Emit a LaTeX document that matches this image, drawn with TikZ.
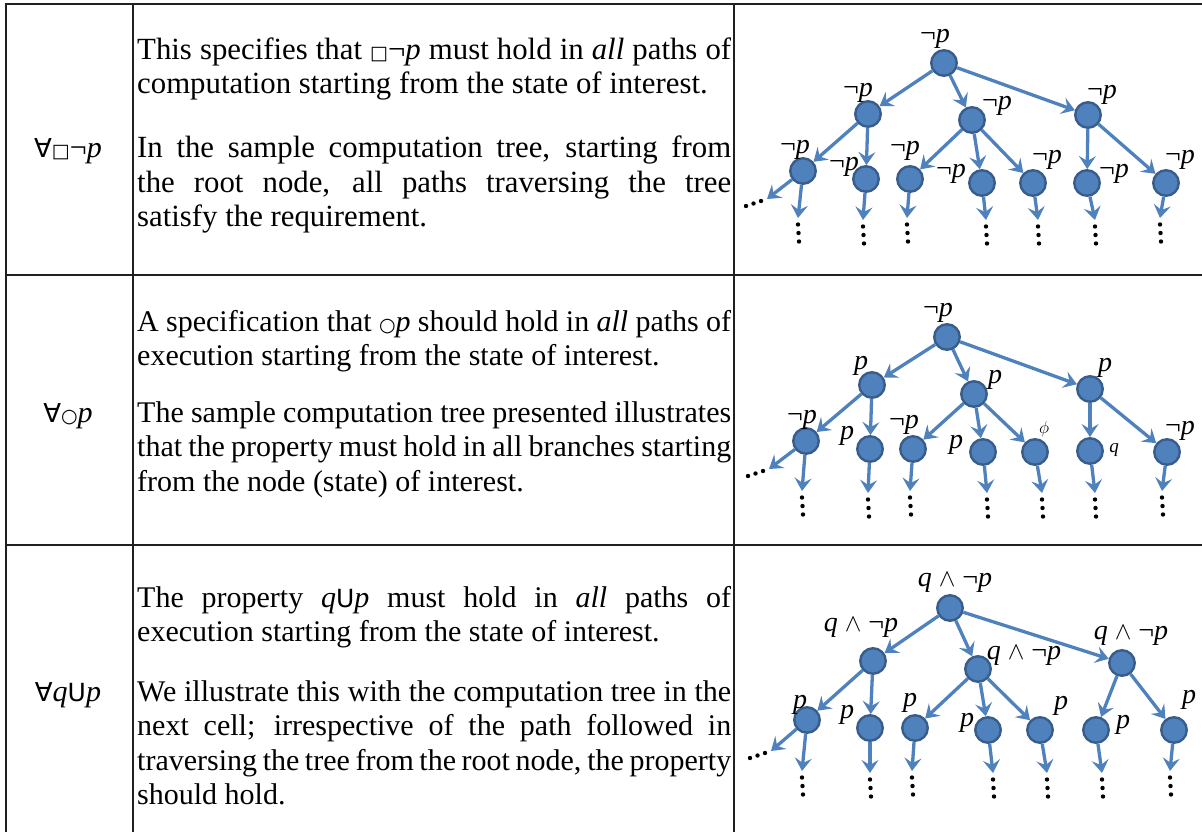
\documentclass[tikz,border=0pt]{standalone}
\usepackage{fontspec}
\setmainfont{Liberation Serif}
\newfontfamily\djs{DejaVu Sans}
\usetikzlibrary{arrows.meta}
\definecolor{nodeblue}{HTML}{4F81BD}
\definecolor{nodeedge}{HTML}{385D8A}
\definecolor{rulecol}{HTML}{231F20}
\hyphenpenalty=10000
\exhyphenpenalty=10000
\newcommand{\bsq}{{\djs\fontsize{19}{19}\selectfont □}}
\newcommand{\bci}{{\djs\fontsize{19}{19}\selectfont ○}}
\newcommand{\bU}{{\djs\fontsize{25}{25}\selectfont U}}
\newcommand{\bfa}{{\djs\fontsize{26}{26}\selectfont ∀}}
\newcommand{\np}{¬\textit{p}}
\newcommand{\qnp}{\textit{q} $\wedge$ ¬\textit{p}}
\begin{document}
\begin{tikzpicture}[x=1pt,y=-1pt,
 cell/.style={anchor=base west, inner sep=0pt, text width=594pt, align=justify, font=\fontsize{30}{34.5}\selectfont},
 cellA/.style={cell, font=\fontsize{30.8}{34.5}\selectfont},
 hdr/.style={anchor=base, inner sep=0pt, font=\fontsize{30}{34.5}\selectfont},
 st/.style={circle, fill=nodeblue, draw=nodeedge, line width=2.4pt, minimum size=25.5pt, inner sep=0pt},
 edge/.style={draw=nodeblue, line width=3.3pt, -{Stealth[length=13pt,width=17pt,inset=5pt]}},
 lbl/.style={inner sep=0pt, font=\fontsize{28}{28}\selectfont},
 slbl/.style={inner sep=0pt, font=\fontsize{19}{19}\selectfont},
 gridline/.style={draw=rulecol, line width=2.5pt}]
\useasboundingbox (0,0) rectangle (1202,832);

% table rules
\draw[gridline] (4.75,4) -- (1202,4);
\draw[gridline] (6,4) -- (6,832);
\draw[gridline] (133,4) -- (133,832);
\draw[gridline] (734,4) -- (734,832);
\draw[gridline] (6,275) -- (1202,275);
\draw[gridline] (6,545) -- (1202,545);

% left column
\node[hdr] (h1) at (68,157.5) {\bfa\bsq\np};
\node[hdr] (h2) at (68,422) {\bfa\bci\textit{p}};
\node[hdr] (h3) at (68,701) {\bfa\textit{q}\bU\textit{p}};

% middle column
\node[cellA] (c1a) at (137,59.5) {This specifies that \bsq\np{} must hold in \textit{all} paths of\linebreak computation starting from the state of interest.};
\node[cellA] (c1b) at (137,157.5) {In the sample computation tree, starting from\linebreak the root node, all paths traversing the tree\linebreak satisfy the requirement.};
\node[cell] (c2a) at (137,331) {A specification that \bci\textit{p} should hold in \textit{all} paths of\linebreak execution starting from the state of interest.};
\node[cell] (c2b) at (137,422) {The sample computation tree presented illustrates\linebreak that the property must hold in all branches starting\linebreak from the node (state) of interest.};
\node[cell] (c3a) at (137,607) {The property \textit{q}\bU\textit{p} must hold in \textit{all} paths of\linebreak execution starting from the state of interest.};
\node[cell] (c3b) at (137,701) {We illustrate this with the computation tree in the\linebreak next cell; irrespective of the path followed in\linebreak traversing the tree from the root node, the property\linebreak should hold.};

% ---------- tree 1 ----------
\node[st] (Ar) at (944,63) {};
\node[st] (Aa) at (868,114) {};
\node[st] (Ab) at (972,120) {};
\node[st] (Ac) at (1088,115) {};
\node[st] (Aa1) at (803,171) {};
\node[st] (Aa2) at (866,179) {};
\node[st] (Ab1) at (910,179) {};
\node[st] (Ab2) at (982,183) {};
\node[st] (Ab3) at (1033,183) {};
\node[st] (Ac1) at (1087,183) {};
\node[st] (Ac2) at (1166,183) {};
\foreach \s/\t in {Ar/Aa,Ar/Ab,Ar/Ac,Aa/Aa1,Aa/Aa2,Ab/Ab1,Ab/Ab2,Ab/Ab3,Ac/Ac1,Ac/Ac2}
  \draw[edge] (\s) -- (\t);
\coordinate (Ae0) at (767,199);
\coordinate (Ae1) at (798,218);
\coordinate (Ae2) at (863,220);
\coordinate (Ae3) at (907,218);
\coordinate (Ae4) at (986,220);
\coordinate (Ae5) at (1038,220);
\coordinate (Ae6) at (1095,220);
\coordinate (Ae7) at (1160,218);
\draw[edge] (Aa1) -- (Ae0);
\draw[edge] (Aa1) -- (Ae1);
\draw[edge] (Aa2) -- (Ae2);
\draw[edge] (Ab1) -- (Ae3);
\draw[edge] (Ab2) -- (Ae4);
\draw[edge] (Ab3) -- (Ae5);
\draw[edge] (Ac1) -- (Ae6);
\draw[edge] (Ac2) -- (Ae7);
\node[lbl] (LAr) at (935,39) {\np};
\node[lbl] (LAa) at (858,93) {\np};
\node[lbl] (LAb) at (997,106) {\np};
\node[lbl] (LAc) at (1102,95) {\np};
\node[lbl] (LAa1) at (795,150) {\np};
\node[lbl] (LAa2) at (844,167) {\np};
\node[lbl] (LAb1) at (905,151) {\np};
\node[lbl] (LAb2) at (951,174) {\np};
\node[lbl] (LAb3) at (1047,160) {\np};
\node[lbl] (LAc1) at (1114,174) {\np};
\node[lbl] (LAc2) at (1180,160) {\np};

% ---------- tree 2 ----------
\node[st] (Br) at (947,337) {};
\node[st] (Ba) at (872,385) {};
\node[st] (Bb) at (974,394) {};
\node[st] (Bc) at (1090,389) {};
\node[st] (Ba1) at (806,441) {};
\node[st] (Ba2) at (870,449) {};
\node[st] (Bb1) at (913,449) {};
\node[st] (Bb2) at (983,452) {};
\node[st] (Bb3) at (1035,452) {};
\node[st] (Bc1) at (1090,451) {};
\node[st] (Bc2) at (1167,452) {};
\foreach \s/\t in {Br/Ba,Br/Bb,Br/Bc,Ba/Ba1,Ba/Ba2,Bb/Bb1,Bb/Bb2,Bb/Bb3,Bc/Bc1,Bc/Bc2}
  \draw[edge] (\s) -- (\t);
\coordinate (Be0) at (769,469);
\coordinate (Be1) at (802,491);
\coordinate (Be2) at (868,493);
\coordinate (Be3) at (910,491);
\coordinate (Be4) at (987,493);
\coordinate (Be5) at (1042,493);
\coordinate (Be6) at (1095,493);
\coordinate (Be7) at (1162,491);
\draw[edge] (Ba1) -- (Be0);
\draw[edge] (Ba1) -- (Be1);
\draw[edge] (Ba2) -- (Be2);
\draw[edge] (Bb1) -- (Be3);
\draw[edge] (Bb2) -- (Be4);
\draw[edge] (Bb3) -- (Be5);
\draw[edge] (Bc1) -- (Be6);
\draw[edge] (Bc2) -- (Be7);
\node[lbl] (LBr) at (938,313) {\np};
\node[lbl] (LBa) at (861,366) {\textit{p}};
\node[lbl] (LBb) at (995,380) {\textit{p}};
\node[lbl] (LBc) at (1105,368) {\textit{p}};
\node[lbl] (LBa1) at (802,420) {\np};
\node[lbl] (LBa2) at (847,436) {\textit{p}};
\node[lbl] (LBb1) at (904,425) {\np};
\node[lbl] (LBb2) at (956,445) {\textit{p}};
\node[slbl] (LBb3) at (1044,429) {$\phi$};
\node[slbl] (LBc1) at (1114,450) {\textit{q}};
\node[lbl] (LBc2) at (1180,431) {\np};

% ---------- tree 3 ----------
\node[st] (Cr) at (950,608) {};
\node[st] (Ca) at (873,661) {};
\node[st] (Cb) at (978,669) {};
\node[st] (Cc) at (1122,663) {};
\node[st] (Ca1) at (807,720) {};
\node[st] (Ca2) at (870,728) {};
\node[st] (Cb1) at (915,728) {};
\node[st] (Cb2) at (988,730) {};
\node[st] (Cb3) at (1040,730) {};
\node[st] (Cc1) at (1096,730) {};
\node[st] (Cc2) at (1174,730) {};
\foreach \s/\t in {Cr/Ca,Cr/Cb,Cr/Cc,Ca/Ca1,Ca/Ca2,Cb/Cb1,Cb/Cb2,Cb/Cb3,Cc/Cc1,Cc/Cc2}
  \draw[edge] (\s) -- (\t);
\coordinate (Ce0) at (771,751);
\coordinate (Ce1) at (802,771);
\coordinate (Ce2) at (870,773);
\coordinate (Ce3) at (912,771);
\coordinate (Ce4) at (993,773);
\coordinate (Ce5) at (1047,773);
\coordinate (Ce6) at (1102,773);
\coordinate (Ce7) at (1170,771);
\draw[edge] (Ca1) -- (Ce0);
\draw[edge] (Ca1) -- (Ce1);
\draw[edge] (Ca2) -- (Ce2);
\draw[edge] (Cb1) -- (Ce3);
\draw[edge] (Cb2) -- (Ce4);
\draw[edge] (Cb3) -- (Ce5);
\draw[edge] (Cc1) -- (Ce6);
\draw[edge] (Cc2) -- (Ce7);
\node[lbl] (LCr) at (955,583) {\qnp};
\node[lbl] (LCa) at (861,628) {\qnp};
\node[lbl] (LCb) at (1024,656) {\qnp};
\node[lbl] (LCc) at (1131,636) {\qnp};
\node[lbl] (LCa1) at (800,705) {\textit{p}};
\node[lbl] (LCa2) at (847,715) {\textit{p}};
\node[lbl] (LCb1) at (910,703) {\textit{p}};
\node[lbl] (LCb2) at (967,723) {\textit{p}};
\node[lbl] (LCb3) at (1061,706) {\textit{p}};
\node[lbl] (LCc1) at (1123,725) {\textit{p}};
\node[lbl] (LCc2) at (1189,700) {\textit{p}};

% continuation dots
\foreach \x/\y in {798/217,863/219,907/217,986/219,1038/219,1095/219,1160/217,
                   802/490,868/492,910/490,987/492,1042/492,1095/492,1162/490,
                   802/770,870/772,912/770,993/772,1047/772,1102/772,1170/770}
{
  \fill (\x,\y+7.5) circle (2.2pt);
  \fill (\x+0.5,\y+16) circle (2.2pt);
  \fill (\x+1,\y+24.5) circle (2.2pt);
}
\foreach \x/\y in {768/198,770/468,772/750}
{
  \fill (\x-7,\y+3) circle (2.2pt);
  \fill (\x-14.5,\y+5.5) circle (2.2pt);
  \fill (\x-22,\y+8) circle (2.2pt);
}
\end{tikzpicture}
\end{document}
